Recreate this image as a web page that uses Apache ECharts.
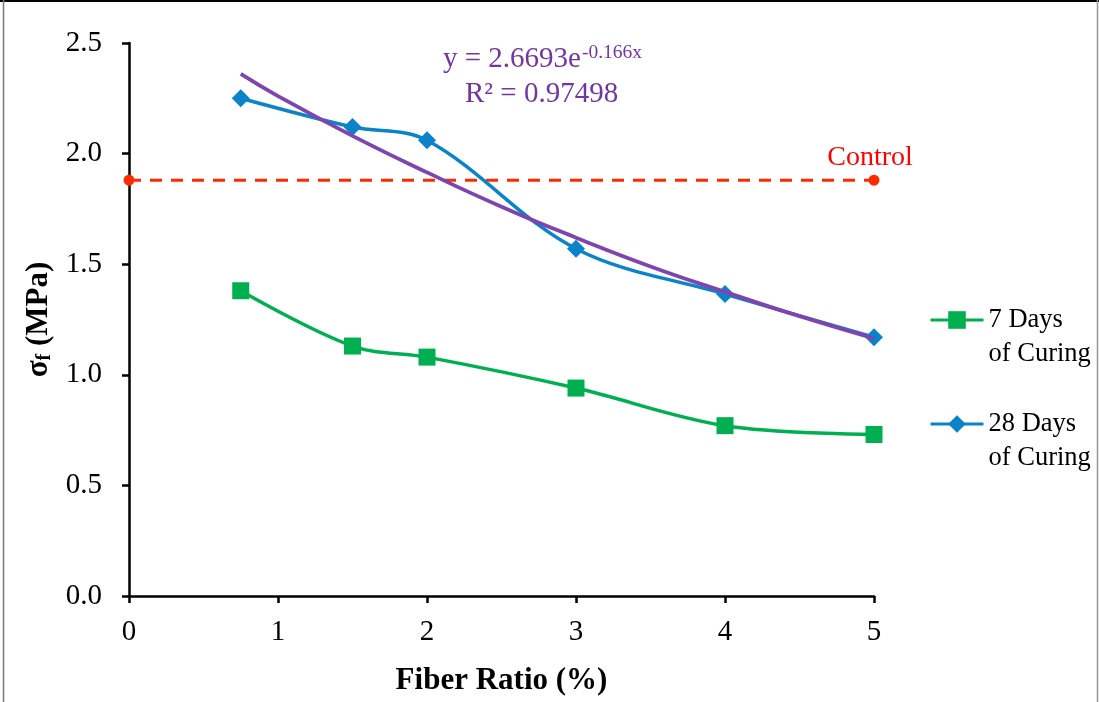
<!DOCTYPE html>
<html>
<head>
<meta charset="utf-8">
<script src="https://cdn.jsdelivr.net/npm/echarts@6/dist/echarts.min.js"></script>
<style>html,body{margin:0;padding:0;background:#fff}#c{width:1099px;height:702px}</style>
</head>
<body>
<div id="c"></div>
<script>
const fiberRatio = [0.75, 1.5, 2, 3, 4, 5];
const days7 = [1.38, 1.13, 1.08, 0.94, 0.77, 0.73];
const days28 = [2.25, 2.12, 2.06, 1.57, 1.365, 1.17];
const controlX = [0, 5];
const controlY = [1.88, 1.88];
const trendX = [0.75, 1, 1.5, 2, 2.5, 3, 3.5, 4, 4.5, 5];
const trendY = [2.36, 2.26, 2.08, 1.915, 1.76, 1.62, 1.49, 1.375, 1.265, 1.165];
const xTicks = [0, 1, 2, 3, 4, 5];
const yTicks = ['0.0', '0.5', '1.0', '1.5', '2.0', '2.5'];
const seriesNames = ['7 Days\nof Curing', '28 Days\nof Curing'];

const zip = (xs, ys) => xs.map((x, i) => [x, ys[i]]);
const FONT = '"Liberation Serif", "Times New Roman", serif';
const PURPLE_TEXT = '#7236A4';

const chart = echarts.init(document.getElementById('c'), null, {renderer: 'canvas'});
chart.setOption({
  animation: false,
  backgroundColor: '#fff',
  textStyle: {fontFamily: FONT},
  grid: {left: 129, right: 225, top: 43, bottom: 106, containLabel: false},
  xAxis: {
    type: 'value', min: 0, max: 5, interval: 1,
    name: 'Fiber Ratio (%)', nameLocation: 'middle', nameGap: 69,
    nameTextStyle: {fontFamily: FONT, fontSize: 31, fontWeight: 'bold', color: '#000'},
    axisLine: {lineStyle: {color: '#000', width: 2.5}},
    axisTick: {show: true, length: 7, lineStyle: {color: '#000', width: 2.5}},
    axisLabel: {fontFamily: FONT, fontSize: 29, color: '#000', margin: 22,
      formatter: v => xTicks.includes(v) ? String(v) : ''},
    splitLine: {show: false}
  },
  yAxis: {
    type: 'value', min: 0, max: 2.5, interval: 0.5,
    name: '{a|σ}{s|f}{a| (MPa)}', nameLocation: 'middle', nameGap: 66, nameRotate: 90,
    nameTextStyle: {fontFamily: FONT, fontWeight: 'bold', color: '#000',
      rich: {
        a: {fontFamily: FONT, fontSize: 31, fontWeight: 'bold', color: '#000'},
        s: {fontFamily: FONT, fontSize: 20, fontWeight: 'bold', color: '#000', verticalAlign: 'bottom', padding: [12, 0, 0, 0]}
      }},
    axisLine: {show: true, lineStyle: {color: '#000', width: 2.5}},
    axisTick: {show: true, length: 7, lineStyle: {color: '#000', width: 2.5}},
    axisLabel: {fontFamily: FONT, fontSize: 29, color: '#000', margin: 27,
      formatter: v => yTicks[Math.round(v / 0.5)]},
    splitLine: {show: false}
  },
  legend: {
    orient: 'vertical', left: 924, top: 264,
    itemWidth: 53, itemHeight: 22, itemGap: 2,
    data: seriesNames,
    formatter: n => '\n' + n,
    lineStyle: {width: 3},
    textStyle: {fontFamily: FONT, fontSize: 26.5, color: '#000', lineHeight: 34}
  },
  series: [
    {
      name: 'Control', type: 'line', data: zip(controlX, controlY),
      symbol: 'circle', symbolSize: 11, z: 1,
      lineStyle: {color: '#FF2A00', width: 3, type: [12, 9]},
      itemStyle: {color: '#FF2A00'},
      label: {show: true, position: 'top', distance: 3, offset: [-4, 0],
        formatter: p => p.dataIndex === 1 ? 'Control' : '',
        fontFamily: FONT, fontSize: 28, color: '#FF0000'}
    },
    {
      name: seriesNames[0], type: 'line', data: zip(fiberRatio, days7),
      smooth: 0.35, symbol: 'rect', symbolSize: 17, z: 3,
      lineStyle: {color: '#00B050', width: 3.5},
      itemStyle: {color: '#00B050'}
    },
    {
      name: seriesNames[1], type: 'line', data: zip(fiberRatio, days28),
      smooth: 0.35, symbol: 'diamond', symbolSize: [18, 18], z: 3,
      lineStyle: {color: '#0A83C9', width: 3.5},
      itemStyle: {color: '#0A83C9'}
    },
    {
      name: 'Trend', type: 'line', data: zip(trendX, trendY),
      smooth: true, symbol: 'none', z: 4,
      lineStyle: {color: '#7E45B0', width: 3.8}
    }
  ],
  graphic: [
    {type: 'text', x: 443, y: 59, z: 10,
      style: {text: 'y = 2.6693e', font: '29px ' + FONT, fill: PURPLE_TEXT, verticalAlign: 'middle', align: 'left'}},
    {type: 'text', x: 582, y: 53, z: 10,
      style: {text: '-0.166x', font: '19.5px ' + FONT, fill: PURPLE_TEXT, verticalAlign: 'middle', align: 'left'}},
    {type: 'text', x: 465, y: 94, z: 10,
      style: {text: 'R² = 0.97498', font: '29px ' + FONT, fill: PURPLE_TEXT, verticalAlign: 'middle', align: 'left'}},
    {type: 'line', z: 20, shape: {x1: 0, y1: 1, x2: 1099, y2: 1}, style: {stroke: '#000', lineWidth: 2}},
    {type: 'line', z: 20, shape: {x1: 3.5, y1: 0, x2: 3.5, y2: 702}, style: {stroke: '#777', lineWidth: 1.5}},
    {type: 'line', z: 20, shape: {x1: 1097.5, y1: 0, x2: 1097.5, y2: 702}, style: {stroke: '#999', lineWidth: 1.5}}
  ]
});
</script>
</body>
</html>
